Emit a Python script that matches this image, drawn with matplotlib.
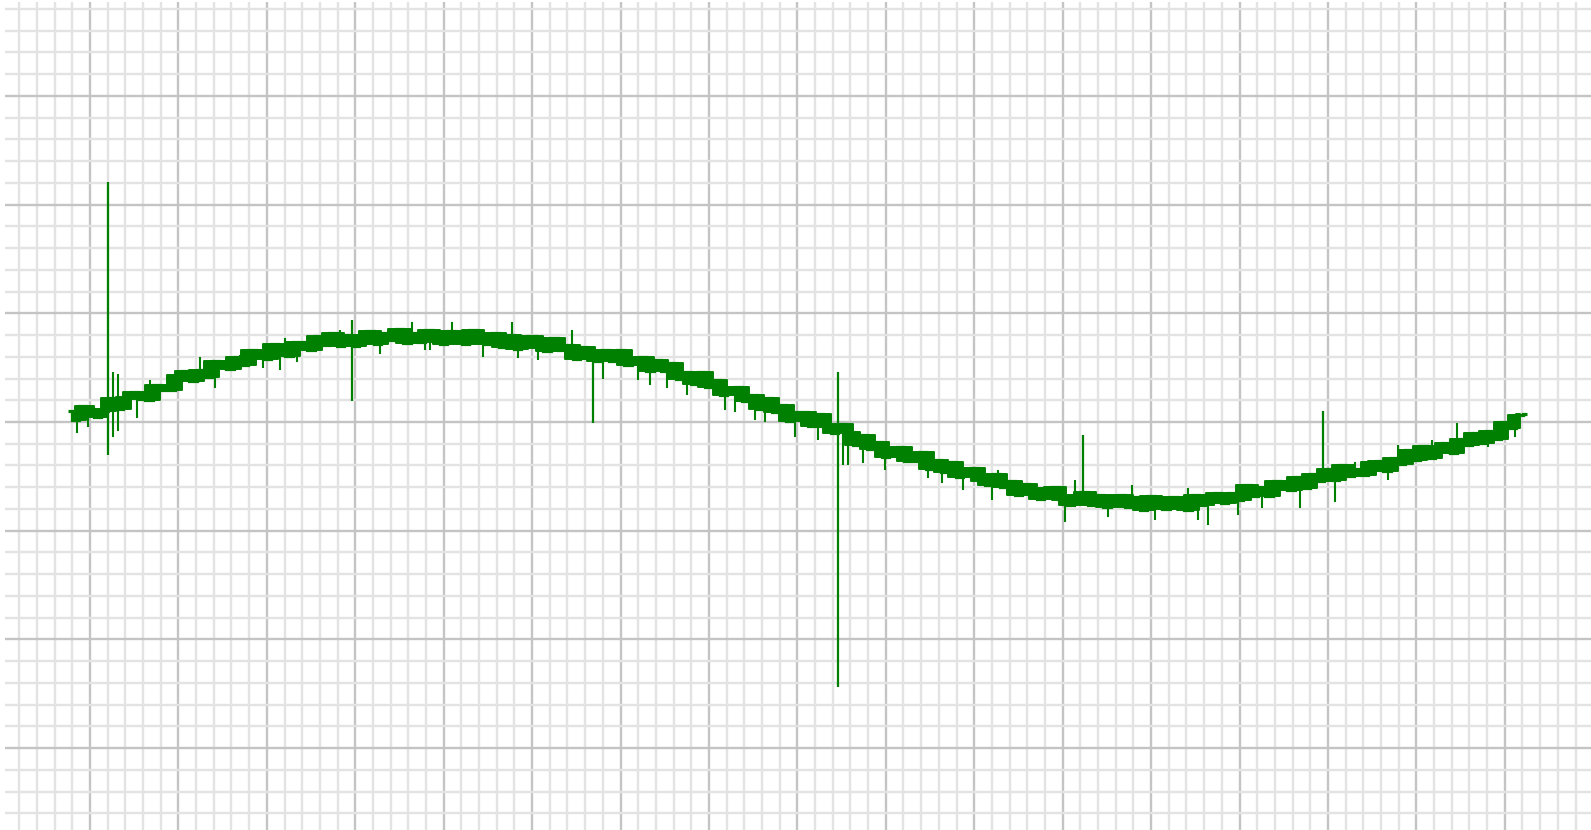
import matplotlib
matplotlib.use("Agg")
import matplotlib.pyplot as plt
from matplotlib.ticker import MultipleLocator
import numpy as np

# signal sampled every 1/12 of a major grid cell, starting at t = -0.25
t_start = -0.25
t_step = 1 / 12
signal = [
    10, 2, 15, 12, 5, 10, 22, 12, 23, 28, 21, 20,
    34, 29, 29, 43, 47, 38, 48, 41, 56, 55, 49, 60,
    52, 66, 64, 58, 72, 62, 61, 74, 74, 66, 79, 71,
    82, 70, 80, 70, 79, 84, 72, 82, 75, 86, 73, 82,
    74, 85, 82, 72, 84, 75, 72, 85, 79, 72, 82, 69,
    80, 67, 77, 79, 68, 65, 77, 66, 71, 58, 69, 65,
    56, 66, 56, 66, 52, 59, 60, 47, 57, 47, 54, 40,
    46, 35, 46, 32, 39, 25, 31, 32, 19, 25, 12, 22,
    9, 16, 1, 9, 9, -4, 7, -5, -10, -2, -9, -21,
    -12, -25, -18, -32, -24, -23, -36, -36, -28, -43, -35, -46,
    -37, -51, -44, -42, -54, -58, -48, -60, -54, -67, -57, -65,
    -71, -61, -60, -72, -76, -67, -64, -76, -67, -78, -70, -67,
    -78, -69, -81, -68, -71, -80, -69, -78, -81, -67, -76, -67,
    -65, -75, -65, -72, -58, -68, -60, -68, -54, -55, -63, -51,
    -61, -48, -54, -43, -53, -40, -50, -43, -49, -37, -36, -45,
    -33, -39, -26, -35, -22, -33, -24, -19, -29, -16, -21, -10,
    -19, -8, -16, 0, -6, 6, 7,
]

# large glitches
spike_t = [0.20, 2.96, 5.69, 8.46, 11.23, 13.94]
spike_lo = [-30, 19, -1, -244, -71, -50]
spike_hi = [221, 94, 62, 46, -12, 10]

# short single-sample excursions out of the band
tick_t = [-0.15, -0.02, 0.26, 0.32, 0.53, 0.68, 1.24, 1.41, 1.70, 1.96, 2.15, 2.21,
          2.34, 2.83, 3.28, 3.64, 3.79, 3.85, 4.09, 4.44, 4.77, 4.84, 5.07, 5.45,
          5.80, 6.20, 6.33, 6.53, 6.75, 7.18, 7.29, 7.52, 7.63, 7.97, 8.23, 8.52,
          8.57, 8.74, 8.99, 9.48, 9.64, 9.87, 10.20, 10.27, 11.03, 11.14, 11.51, 11.78,
          12.04, 12.42, 12.53, 12.64, 12.98, 13.25, 13.68, 14.08, 14.31, 14.68, 14.79,
          15.18, 15.46, 15.81, 16.12]
tick_lo = [-10, -5, -14, -8, 4, 25, 46, 31, 50, 50, 48, 66,
           55, 75, 63, 79, 66, 66, 79, 60, 75, 59, 57, 66,
           40, 39, 34, 31, 25, 11, 9, 2, 0, -14, -17, -40,
           -40, -38, -44, -52, -56, -63, -72, -55, -92, -69, -87, -73,
           -90, -74, -90, -95, -86, -79, -79, -74, -46, -53, -36,
           -27, -21, -23, -14]
tick_hi = [7, 10, 46, 44, 25, 39, 60, 50, 62, 62, 66, 77,
           70, 85, 78, 92, 79, 79, 92, 78, 92, 74, 73, 85,
           61, 56, 54, 50, 43, 33, 30, 20, 17, 7, 1, -8,
           -10, -18, -25, -36, -40, -44, -54, -44, -68, -53, -72, -58,
           -74, -61, -73, -72, -68, -62, -54, -48, -37, -38, -21,
           -17, -1, -12, 0]

t = t_start + np.arange(len(signal)) * t_step
sig = np.array(signal)

fig = plt.figure(figsize=(15.91, 8.30), dpi=100)
ax = fig.add_axes([5 / 1591, 0, 1586 / 1591, 828 / 830])

green = "#008000"
# dense trace: fill the min..max range of each sample and its neighbours
win_lo = np.minimum(np.minimum(sig[:-2], sig[1:-1]), sig[2:])
win_hi = np.maximum(np.maximum(sig[:-2], sig[1:-1]), sig[2:])
ax.fill_between(t[1:-1], win_lo, win_hi, step="mid", color=green, lw=1.4)
ax.plot(t, sig, color=green, lw=2.3, drawstyle="steps-mid",
        solid_joinstyle="miter", solid_capstyle="butt")
ax.vlines(tick_t, tick_lo, tick_hi, color=green, lw=1.5)
ax.vlines(spike_t, spike_lo, spike_hi, color=green, lw=1.6)

# graph paper look
ax.set_xlim(-0.961, 16.975)
ax.set_ylim(-375.4, 386.4)
ax.xaxis.set_major_locator(MultipleLocator(1))
ax.xaxis.set_minor_locator(MultipleLocator(0.2))
ax.yaxis.set_major_locator(MultipleLocator(100))
ax.yaxis.set_minor_locator(MultipleLocator(20))
ax.grid(which="minor", color="#e3e3e3", lw=1.7)
ax.grid(which="major", color="#c4c4c4", lw=1.7)
ax.set_axisbelow(True)
ax.tick_params(which="both", length=0, labelbottom=False, labelleft=False)
for s in ax.spines.values():
    s.set_visible(False)

fig.savefig("out.png", dpi=100, facecolor="white")
